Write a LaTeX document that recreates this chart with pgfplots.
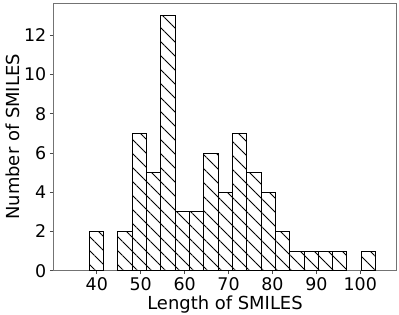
\documentclass[border=0pt]{standalone}
\usepackage{fontspec}
\setmainfont{DejaVu Sans}
\usepackage{pgfplots}
\pgfplotsset{compat=1.18}
\usetikzlibrary{patterns.meta}
\begin{document}
\begin{tikzpicture}
\useasboundingbox (-53.3bp,-44.3bp) rectangle (345.7bp,270.7bp);
\begin{axis}[
  at={(0,0)}, anchor=origin,
  scale only axis,
  width=343.4bp, height=267.7bp,
  xmin=30.1, xmax=108.3,
  ymin=0, ymax=13.65,
  xtick={40,50,60,70,80,90,100},
  ytick={0,2,4,6,8,10,12},
  tick align=outside,
  xtick pos=bottom, ytick pos=left,
  major tick length=3.5bp,
  tick style={black!70, line width=0.8bp},
  axis line style={black!55, line width=0.8bp},
  ticklabel style={font=\fontsize{17.5}{20}\selectfont},
  label style={font=\fontsize{18}{21}\selectfont},
  /pgf/number format/assume math mode=true,
  xlabel={Length of SMILES},
  ylabel={Number of SMILES},
  xlabel style={yshift=2bp},
  ylabel style={yshift=-2bp},
]
\addplot[ybar, bar width=3.26, bar shift=0pt, draw=black, line width=1bp,
  fill=white, postaction={pattern={Lines[angle=-45, distance=9.9bp, line width=0.8bp]}, pattern color=black}]
  coordinates {
  (39.93,2) (46.45,2) (49.71,7) (52.97,5) (56.23,13) (59.49,3) (62.75,3)
  (66.01,6) (69.27,4) (72.53,7) (75.79,5) (79.05,4) (82.31,2) (85.57,1)
  (88.83,1) (92.09,1) (95.35,1) (101.87,1)
  };
\end{axis}
\end{tikzpicture}
\end{document}
